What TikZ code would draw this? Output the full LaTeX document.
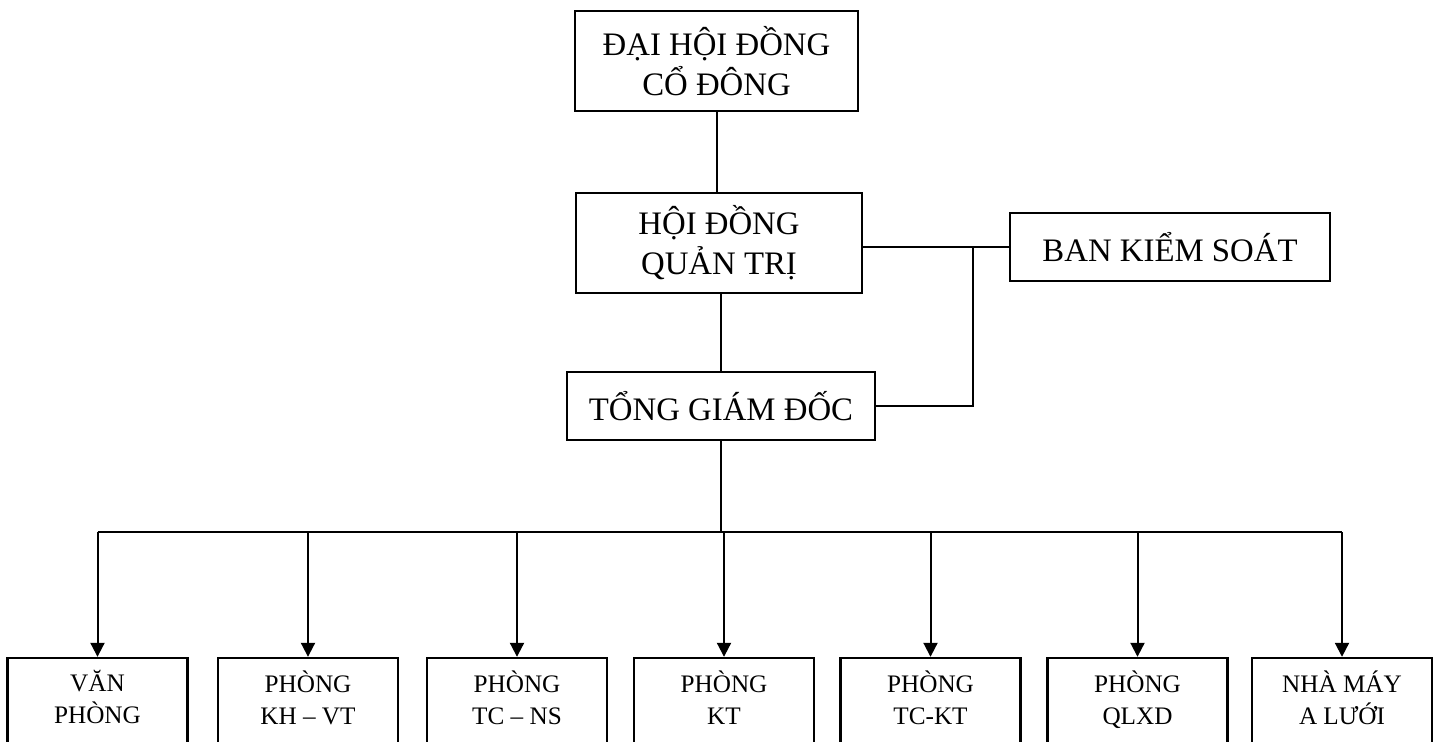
\documentclass[tikz,border=0pt]{standalone}
\usepackage{fontspec}
\setmainfont{Liberation Serif}
\usetikzlibrary{arrows.meta}

\begin{document}
\begin{tikzpicture}[x=0.5pt, y=-0.5pt,
    unit/.style={draw, line width=1.2pt, align=center, inner sep=0pt, font=\fontsize{16.4}{20}\selectfont},
    dept/.style={draw, line width=1.2pt, align=center, inner sep=0pt, minimum width=90pt, minimum height=44pt, font=\fontsize{12.6}{16}\selectfont,
        execute at begin node=\rule{0pt}{14pt}, execute at end node=\strut},
    link/.style={line width=1pt},
    arrow/.style={line width=1pt, -{Triangle[length=7pt, width=7pt]}}]
    % Frame
    \clip (0,0) rectangle (1438,741);
    
    % Top levels
    \node[unit, minimum width=141.5pt, minimum height=50pt] (dhdcd) at (716.5,61) {ĐẠI HỘI ĐỒNG\\CỔ ĐÔNG};
    \node[unit, minimum width=143pt, minimum height=50pt] (hdqt) at (719,243) {HỘI ĐỒNG\\QUẢN TRỊ};
    \node[unit, minimum width=154pt, minimum height=34pt] (tgd) at (721,406) {TỔNG GIÁM ĐỐC};
    \node[unit, minimum width=160pt, minimum height=34pt] (bks) at (1170,247) {BAN KIỂM SOÁT};
    
    \draw[link] (dhdcd.south) -- (dhdcd.south |- hdqt.north);
    \draw[link] (tgd.north |- hdqt.south) -- (tgd.north);
    \draw[link] (hdqt.east |- bks.west) -- (bks.west);
    \coordinate (j) at (973,247);
    \draw[link] (j) |- (tgd.east);
    
    % Departments
    \node[dept] (d1) at (97.5,702) {VĂN\\PHÒNG};
    \node[dept] (d2) at (308,702) {PHÒNG\\KH – VT};
    \node[dept] (d3) at (517,702) {PHÒNG\\TC – NS};
    \node[dept] (d4) at (724,702) {PHÒNG\\KT};
    \node[dept] (d5) at (930.5,702) {PHÒNG\\TC-KT};
    \node[dept] (d6) at (1137.5,702) {PHÒNG\\QLXD};
    \node[dept] (d7) at (1342,702) {NHÀ MÁY\\A LƯỚI};
    
    % Bus
    \coordinate (bus) at (721,532);
    \draw[link] (tgd.south) -- (tgd.south |- bus);
    \draw[link] (d1.north |- bus) -- (d7.north |- bus);
    \foreach \i in {1,...,7} {
        \draw[arrow] (d\i.north |- bus) -- (d\i.north);
    }
\end{tikzpicture}
\end{document}
